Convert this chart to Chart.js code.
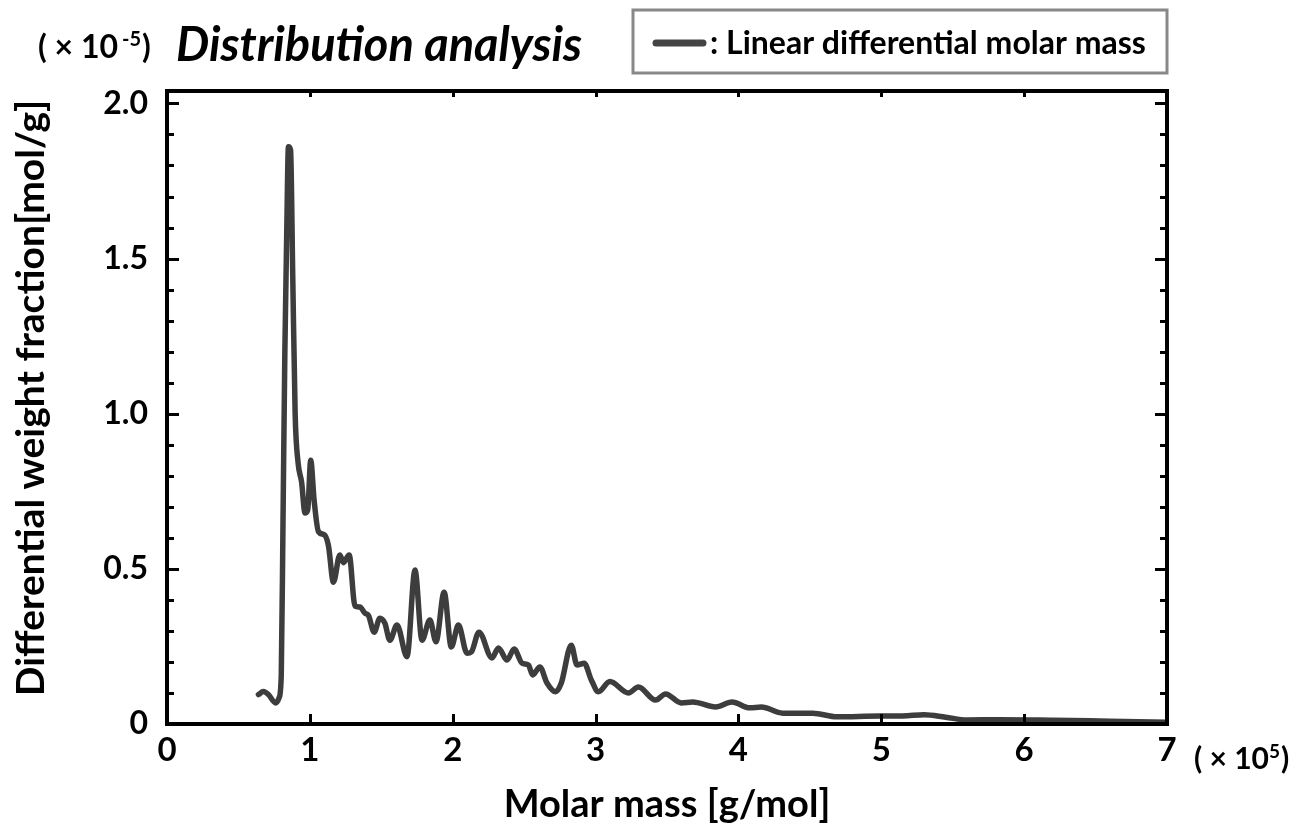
<!DOCTYPE html>
<html>
<head>
<meta charset="utf-8">
<title>Distribution analysis</title>
<script src="https://cdn.jsdelivr.net/npm/chart.js@4/dist/chart.umd.min.js"></script>
<style>
  html, body { margin: 0; padding: 0; background: #fff; }
  #wrap { width: 1295px; height: 832px; position: relative; }
</style>
</head>
<body>
<div id="wrap"><canvas id="mmChart"></canvas></div>
<script>
// molar mass, in units of 1e5 g/mol
const molarMass = [
  0.64, 0.675, 0.71, 0.76, 0.785, 0.80, 0.812, 0.825, 0.838, 0.85,
  0.865, 0.88, 0.897, 0.918, 0.942, 0.966, 0.985, 1.006, 1.03, 1.06,
  1.10, 1.13, 1.165, 1.21, 1.235, 1.275, 1.316, 1.35, 1.386, 1.41,
  1.45, 1.49, 1.525, 1.56, 1.61, 1.68, 1.736, 1.785, 1.84, 1.883,
  1.94, 1.99, 2.04, 2.10, 2.13, 2.184, 2.275, 2.32, 2.38, 2.43,
  2.485, 2.53, 2.56, 2.61, 2.66, 2.72, 2.76, 2.83, 2.87, 2.92,
  2.97, 3.02, 3.10, 3.23, 3.30, 3.42, 3.49, 3.60, 3.68, 3.84,
  3.955, 4.08, 4.16, 4.31, 4.52, 4.69, 4.99, 5.15, 5.30, 5.45,
  5.60, 5.83, 6.20, 6.60, 7.00
];
// differential weight fraction, in units of 1e-5 mol/g
const weightFraction = [
  0.095, 0.105, 0.095, 0.068, 0.085, 0.16, 0.65, 1.20, 1.58, 1.86,
  1.85, 1.45, 1.00, 0.84, 0.78, 0.68, 0.69, 0.85, 0.72, 0.62,
  0.61, 0.575, 0.457, 0.545, 0.52, 0.545, 0.38, 0.377, 0.357, 0.35,
  0.296, 0.341, 0.325, 0.27, 0.319, 0.217, 0.496, 0.27, 0.335, 0.265,
  0.425, 0.248, 0.319, 0.228, 0.232, 0.296, 0.213, 0.245, 0.206, 0.242,
  0.196, 0.19, 0.158, 0.184, 0.132, 0.104, 0.132, 0.254, 0.19, 0.196,
  0.142, 0.104, 0.137, 0.10, 0.119, 0.077, 0.097, 0.068, 0.071, 0.055,
  0.071, 0.052, 0.055, 0.035, 0.035, 0.023, 0.026, 0.026, 0.03, 0.022,
  0.013, 0.014, 0.012, 0.009, 0.006
];
const xTicks = [0, 1, 2, 3, 4, 5, 6, 7];
const yMajor = ['0', '0.5', '1.0', '1.5', '2.0'];

const FONT = 'Lato, "Open Sans", sans-serif';
const LINE = '#3d3d3d';

// "( x 10^exp)" written piece by piece
function drawMultiplier(ctx, x, y, size, exp, gap) {
  ctx.font = 'bold ' + size + 'px ' + FONT;
  ctx.fillText('( \u00d7 10', x, y);
  x += ctx.measureText('( \u00d7 10').width + gap;
  ctx.font = 'bold ' + Math.round(size * 0.62) + 'px ' + FONT;
  ctx.fillText(exp, x, y - size * 0.38);
  x += ctx.measureText(exp).width + 1;
  ctx.font = 'bold ' + size + 'px ' + FONT;
  ctx.fillText(')', x, y);
}

// inward ticks, frame, titles, legend
const framePlugin = {
  id: 'frame',
  afterDatasetsDraw(chart) {
    const { ctx, chartArea: a, scales } = chart;
    const x = scales.x, y = scales.y;
    ctx.save();
    ctx.strokeStyle = '#000';
    ctx.lineWidth = 3;
    ctx.lineCap = 'butt';
    ctx.beginPath();
    // left / right ticks every 0.1
    for (let i = 0; i <= 20; i++) {
      const py = Math.round(y.getPixelForValue(i / 10)) + 0.5;
      const len = (i % 5 === 0) ? 12 : 7;
      ctx.moveTo(a.left, py); ctx.lineTo(a.left + len, py);
      ctx.moveTo(a.right, py); ctx.lineTo(a.right - len, py);
    }
    // bottom / top ticks
    xTicks.forEach(v => {
      const px = Math.round(x.getPixelForValue(v)) + 0.5;
      ctx.moveTo(px, a.bottom); ctx.lineTo(px, a.bottom - 10);
      ctx.moveTo(px, a.top); ctx.lineTo(px, a.top + 6);
    });
    ctx.stroke();
    ctx.lineWidth = 4;
    ctx.strokeRect(a.left, a.top, a.right - a.left, a.bottom - a.top);

    ctx.fillStyle = '#000';
    ctx.textAlign = 'left';
    ctx.textBaseline = 'alphabetic';
    drawMultiplier(ctx, 38, 58, 32, '-5', 4);

    // title
    ctx.font = 'italic bold 47px ' + FONT;
    ctx.fillText('Distribution analysis', 176, 61);

    // legend box
    ctx.strokeStyle = '#888';
    ctx.lineWidth = 3;
    ctx.strokeRect(633, 10, 534, 63);
    ctx.strokeStyle = '#444';
    ctx.lineWidth = 7;
    ctx.lineCap = 'round';
    ctx.beginPath();
    ctx.moveTo(656, 43); ctx.lineTo(703, 43);
    ctx.stroke();
    ctx.font = 'bold 32px ' + FONT;
    ctx.fillText(': Linear differential molar mass', 710, 54);

    // x multiplier
    drawMultiplier(ctx, 1194, 769, 30, '5', 0);

    // axis titles
    ctx.textAlign = 'center';
    ctx.textBaseline = 'middle';
    ctx.font = 'bold 38px ' + FONT;
    ctx.fillText('Molar mass [g/mol]', 667, 805);
    ctx.translate(31, 398);
    ctx.rotate(-Math.PI / 2);
    ctx.font = 'bold 39px ' + FONT;
    ctx.fillText('Differential weight fraction[mol/g]', 0, 0);
    ctx.restore();
  }
};

const points = molarMass.map((m, i) => ({ x: m, y: weightFraction[i] }));

new Chart(document.getElementById('mmChart'), {
  type: 'line',
  data: {
    datasets: [{
      label: 'Linear differential molar mass',
      data: points,
      borderColor: LINE,
      borderWidth: 5.5,
      pointRadius: 0,
      cubicInterpolationMode: 'monotone',
      borderJoinStyle: 'round',
      borderCapStyle: 'round',
      fill: false
    }]
  },
  options: {
    responsive: true,
    maintainAspectRatio: false,
    animation: false,
    layout: { padding: { top: 91, right: 128, left: 0, bottom: 0 } },
    plugins: { legend: { display: false }, tooltip: { enabled: false } },
    scales: {
      x: {
        type: 'linear',
        min: 0, max: 7,
        afterFit(s) { s.height = 108; },
        afterBuildTicks(s) { s.ticks = xTicks.map(v => ({ value: v })); },
        grid: { display: false, drawTicks: false },
        border: { display: false },
        ticks: {
          color: '#000',
          padding: 7,
          maxRotation: 0,
          font: { family: FONT, weight: 'bold', size: 33 },
          callback: v => String(v)
        }
      },
      y: {
        type: 'linear',
        min: 0, max: 2.04,
        afterFit(s) { s.width = 167; },
        afterBuildTicks(s) {
          const t = [];
          for (let i = 0; i <= 20; i++) t.push({ value: i / 10 });
          s.ticks = t;
        },
        grid: { display: false, drawTicks: false },
        border: { display: false },
        ticks: {
          color: '#000',
          padding: 19,
          autoSkip: false,
          font: { family: FONT, weight: 'bold', size: 32 },
          callback: (v, i) => (i % 5 === 0 ? yMajor[i / 5] : '')
        }
      }
    }
  },
  plugins: [framePlugin]
});
</script>
</body>
</html>
